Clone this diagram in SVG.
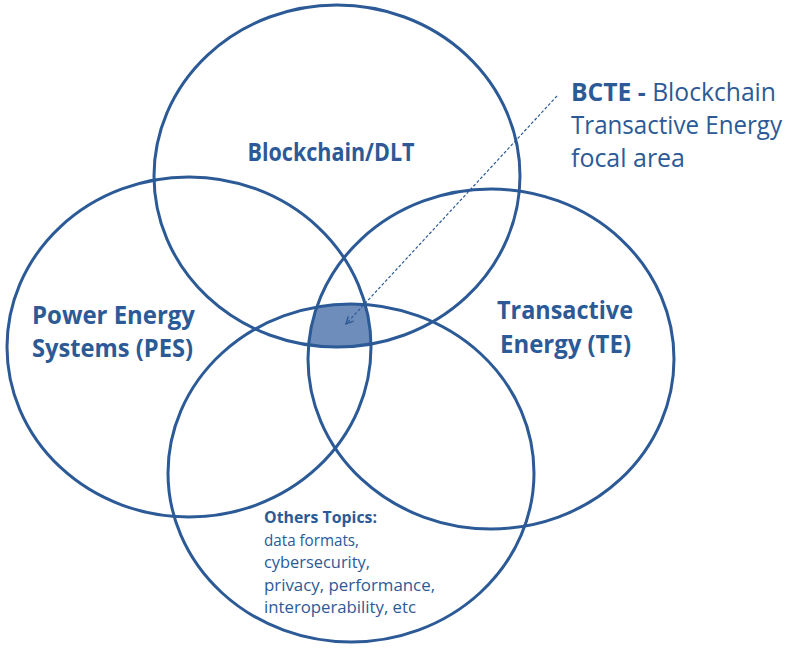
<svg xmlns="http://www.w3.org/2000/svg" width="790" height="648" viewBox="0 0 790 648">
<style>
.ring{fill:none;stroke:#2c5a96;stroke-width:3}
.t{font-family:"Open Sans","Noto Sans",sans-serif;fill:#2c5a96}
.b{font-weight:bold}
.conn{stroke:#2c5a96;stroke-width:1.2;stroke-dasharray:3 2;fill:none}
</style>
<defs>
<clipPath id="cTop"><ellipse cx="337" cy="176" rx="183" ry="171"/></clipPath>
<clipPath id="cLeft"><ellipse cx="189" cy="347" rx="182" ry="170"/></clipPath>
<clipPath id="cRight"><ellipse cx="491" cy="359" rx="183" ry="170"/></clipPath>
<marker id="arr" viewBox="0 0 10 10" refX="9" refY="5" markerWidth="9" markerHeight="9" orient="auto" markerUnits="userSpaceOnUse">
<path d="M1,1 L9,5 L1,9" fill="none" stroke="#2c5a96" stroke-width="1.5"/>
</marker>
</defs>
<rect width="790" height="648" fill="#ffffff"/>
<g id="focal">
<g clip-path="url(#cTop)"><g clip-path="url(#cLeft)"><g clip-path="url(#cRight)">
<ellipse cx="351" cy="473" rx="183" ry="169" fill="#6f8dba"/>
</g></g></g>
</g>
<g id="blockchain">
<ellipse class="ring" cx="337" cy="176" rx="183" ry="171"/>
<text class="t b" x="331" y="161" font-size="25" text-anchor="middle" textLength="167" lengthAdjust="spacingAndGlyphs">Blockchain/DLT</text>
</g>
<g id="pes">
<ellipse class="ring" cx="189" cy="347" rx="182" ry="170"/>
<text class="t b" x="32" y="324" font-size="25" textLength="163" lengthAdjust="spacingAndGlyphs">Power Energy</text>
<text class="t b" x="32" y="357" font-size="25" textLength="161" lengthAdjust="spacingAndGlyphs">Systems (PES)</text>
</g>
<g id="te">
<ellipse class="ring" cx="491" cy="359" rx="183" ry="170"/>
<text class="t b" x="497" y="319" font-size="25" textLength="136" lengthAdjust="spacingAndGlyphs">Transactive</text>
<text class="t b" x="500" y="353" font-size="25" textLength="131" lengthAdjust="spacingAndGlyphs">Energy (TE)</text>
</g>
<g id="others">
<ellipse class="ring" cx="351" cy="473" rx="183" ry="169"/>
<text class="t b" x="264" y="523" font-size="16" textLength="113" lengthAdjust="spacingAndGlyphs">Others Topics:</text>
<text class="t" x="264" y="546" font-size="16" textLength="95" lengthAdjust="spacingAndGlyphs">data formats,</text>
<text class="t" x="264" y="568" font-size="16" textLength="106" lengthAdjust="spacingAndGlyphs">cybersecurity,</text>
<text class="t" x="264" y="591" font-size="16" textLength="171" lengthAdjust="spacingAndGlyphs">privacy, performance,</text>
<text class="t" x="264" y="613" font-size="16" textLength="152" lengthAdjust="spacingAndGlyphs">interoperability, etc</text>
</g>
<g id="bcte">
<text class="t" x="571" y="101" font-size="25" textLength="205" lengthAdjust="spacingAndGlyphs"><tspan class="b">BCTE -</tspan> Blockchain</text>
<text class="t" x="571" y="134" font-size="25" textLength="211" lengthAdjust="spacingAndGlyphs">Transactive Energy</text>
<text class="t" x="571" y="167" font-size="25" textLength="114" lengthAdjust="spacingAndGlyphs">focal area</text>
</g>
<g id="connectors">
<line class="conn" x1="557" y1="96" x2="346" y2="324" marker-end="url(#arr)"/>
</g>
</svg>
